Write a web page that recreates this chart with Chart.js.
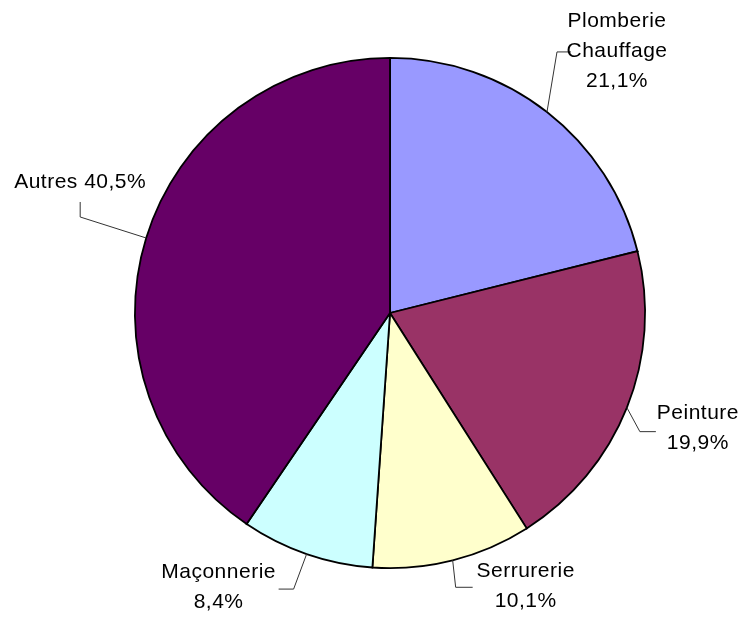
<!DOCTYPE html>
<html>
<head>
<meta charset="utf-8">
<script src="https://cdn.jsdelivr.net/npm/chart.js@4"></script>
<style>
  html, body { margin: 0; padding: 0; background: #fff; }
  #wrap { width: 742px; height: 617px; }
</style>
</head>
<body>
<div id="wrap"><canvas id="graphique"></canvas></div>
<script>
// données du graphique
const categories = ['Plomberie Chauffage', 'Peinture', 'Serrurerie', 'Maçonnerie', 'Autres'];
const valeurs = [21.1, 19.9, 10.1, 8.4, 40.5];
const couleurs = ['#9999FF', '#993366', '#FFFFCC', '#CCFFFF', '#660066'];
// texte des étiquettes (lignes)
const etiquettes = [
    ['Plomberie', 'Chauffage', '21,1%'],
    ['Peinture', '19,9%'],
    ['Serrurerie', '10,1%'],
    ['Maçonnerie', '8,4%'],
    ['Autres 40,5%']
];
// lignes de rappel : coude depuis le bord, queue, centre du texte depuis la queue
const rappels = [
    { coude: [10, -60], queue: [14, 0], texte: [46, -1] },
    { coude: [13, 24], queue: [16, 0], texte: [42, -3] },
    { coude: [3, 27], queue: [17, 0], texte: [53, -1] },
    { coude: [-13, 35], queue: [-15, 0], texte: [-60, -2] },
    { coude: [-66, -21], queue: [0, -15], texte: [0, -20] }
];

const pluginEtiquettes = {
    id: 'etiquettes',
    afterDatasetsDraw(chart) {
        const ctx = chart.ctx;
        const arcs = chart.getDatasetMeta(0).data;
        ctx.save();
        ctx.font = '21px "Liberation Sans", Arial, sans-serif';
        ctx.letterSpacing = '0.5px';
        ctx.fillStyle = '#000';
        ctx.textAlign = 'center';
        ctx.textBaseline = 'middle';
        ctx.strokeStyle = '#333';
        ctx.lineWidth = 1;
        arcs.forEach(function (arc, i) {
            const p = arc.getProps(['x', 'y', 'startAngle', 'endAngle', 'outerRadius'], true);
            const milieu = (p.startAngle + p.endAngle) / 2;
            const bx = p.x + Math.cos(milieu) * p.outerRadius;
            const by = p.y + Math.sin(milieu) * p.outerRadius;
            const r = rappels[i];
            const cx = bx + r.coude[0], cy = by + r.coude[1];
            const qx = cx + r.queue[0], qy = cy + r.queue[1];
            ctx.beginPath();
            ctx.moveTo(bx, by);
            ctx.lineTo(cx, cy);
            ctx.lineTo(qx, qy);
            ctx.stroke();
            const lignes = etiquettes[i];
            const tx = qx + r.texte[0];
            const ty = qy + r.texte[1];
            const hauteur = 30;
            lignes.forEach(function (l, k) {
                ctx.fillText(l, tx, ty + (k - (lignes.length - 1) / 2) * hauteur);
            });
        });
        ctx.restore();
    }
};

window.onload = function () {
    const ctx = document.getElementById('graphique').getContext('2d');
    new Chart(ctx, {
        type: 'pie',
        data: {
            labels: categories,
            datasets: [{
                data: valeurs,
                backgroundColor: couleurs,
                borderColor: '#000',
                borderWidth: 1.8,
                borderJoinStyle: 'miter'
            }]
        },
        options: {
            responsive: true,
            maintainAspectRatio: false,
            animation: false,
            layout: { padding: { top: 57, bottom: 48, left: 134, right: 96 } },
            plugins: {
                legend: { display: false },
                tooltip: { enabled: false }
            }
        },
        plugins: [pluginEtiquettes]
    });
}
</script>
</body>
</html>
